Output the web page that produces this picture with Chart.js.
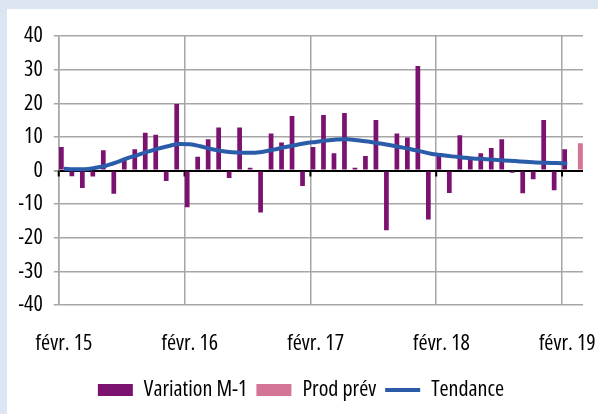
<!DOCTYPE html>
<html>
<head>
<meta charset="utf-8">
<script src="https://cdn.jsdelivr.net/npm/chart.js@4/dist/chart.umd.min.js"></script>
<style>
  body { margin: 0; background: #dce6f2; width: 598px; height: 414px; overflow: hidden; }
  #panel { position: absolute; left: 7px; top: 9px; width: 591px; height: 405px; background: #fff; }
</style>
</head>
<body>
<div id="panel"><canvas id="myChart" width="591" height="405"></canvas></div>
<script>
const monthNames = ["janv.", "févr.", "mars", "avr.", "mai", "juin", "juil.", "août", "sept.", "oct.", "nov.", "déc."];
const months = [];
for (let i = 0; i < 50; i++) {
    months.push(monthNames[(i + 1) % 12] + " " + (15 + Math.floor((i + 1) / 12)));
}

// Variation M-1, févr. 15 -> févr. 19
const variation = [
    7.0, -1.7, -5.2, -1.8, 6.0, -6.9, 3.1, 6.3, 11.2, 10.6, -3.1, 19.8,
    -10.9, 4.1, 9.3, 12.8, -2.2, 12.8, 0.8, -12.5, 11.0, 8.3, 16.2, -4.6,
    7.0, 16.5, 5.1, 17.1, 0.8, 4.3, 15.0, -17.8, 11.0, 9.8, 31.1, -14.6,
    4.3, -6.7, 10.5, 3.2, 5.1, 6.7, 9.3, -0.7, -6.8, -2.6, 15.0, -5.9,
    6.3, null
];
const prodPrev = Array(49).fill(null).concat([8.1]);
const tendance = [
    0.5, 0.4, 0.4, 0.8, 1.4, 2.4, 3.6, 4.6, 5.6, 6.5, 7.3, 7.9,
    7.8, 7.2, 6.4, 5.8, 5.4, 5.3, 5.3, 5.6, 6.2, 6.9, 7.5, 8.1,
    8.5, 8.9, 9.2, 9.3, 9.0, 8.6, 8.1, 7.6, 7.0, 6.4, 5.7, 5.0,
    4.6, 4.2, 3.9, 3.6, 3.4, 3.2, 3.0, 2.8, 2.6, 2.4, 2.3, 2.2,
    2.1, null
];

// the original uses a narrow font; take a condensed face if one is installed
function pickFont() {
    const ctx = document.createElement("canvas").getContext("2d");
    const probe = "févr. 15";
    const widthOf = (f) => { ctx.font = f; return ctx.measureText(probe).width; };
    const candidates = [
        { family: "'Liberation Sans Narrow'", weight: undefined, base: "'Liberation Sans'" },
        { family: "'Noto Sans'", weight: "condensed", base: "'Noto Sans'" },
        { family: "'Open Sans'", weight: "condensed", base: "'Open Sans'" },
        { family: "Roboto", weight: "condensed", base: "Roboto" }
    ];
    for (const c of candidates) {
        const w = widthOf((c.weight ? c.weight + " " : "") + "20px " + c.family + ", monospace");
        const wBase = widthOf("20px " + c.base + ", monospace");
        if (w < wBase * 0.9 && w < 62) {
            return { family: c.family + ", sans-serif", weight: c.weight, size: Math.min(22, Math.round(20 * 58 / w)) };
        }
    }
    return { family: "'Liberation Sans', sans-serif", weight: undefined, size: 17 };
}
const chosen = pickFont();
const textFont = { family: chosen.family, weight: chosen.weight, size: chosen.size };
const gridGrey = "#a6a6a6";

// little black ticks under the zero line, one per year
const zeroTicks = {
    id: "zeroTicks",
    beforeDatasetsDraw(chart) {
        const x = chart.scales.x, y = chart.scales.y;
        const half = (x.getPixelForTick(1) - x.getPixelForTick(0)) / 2;
        const y0 = y.getPixelForValue(0);
        const ctx = chart.ctx;
        ctx.save();
        ctx.strokeStyle = "#000";
        ctx.lineWidth = 2;
        for (let i = 0; i < months.length; i += 12) {
            const px = x.getPixelForTick(i) - half;
            ctx.beginPath();
            ctx.moveTo(px, y0);
            ctx.lineTo(px, y0 + 6);
            ctx.stroke();
        }
        ctx.restore();
    }
};

const myChartElement = document.getElementById("myChart");
new Chart(myChartElement, {
    type: "bar",
    data: {
        labels: months,
        datasets: [{
            label: "Variation M-1",
            data: variation,
            backgroundColor: "#7b1270",
            categoryPercentage: 1,
            barPercentage: 0.9,
            order: 1
        }, {
            label: "Prod prév",
            data: prodPrev,
            backgroundColor: "#d47598",
            categoryPercentage: 1,
            barPercentage: 0.95,
            order: 1
        }, {
            type: "line",
            label: "Tendance",
            data: tendance,
            borderColor: "#2a5caa",
            backgroundColor: "#2a5caa",
            borderWidth: 4,
            pointRadius: 0,
            cubicInterpolationMode: "monotone",
            order: 0
        }]
    },
    options: {
        responsive: false,
        animation: false,
        devicePixelRatio: 1,
        layout: { padding: { left: 12, right: 15, top: 27, bottom: 3 } },
        scales: {
            x: {
                offset: true,
                afterFit: (scale) => { scale.height = 65; },
                grid: {
                    offset: true,
                    drawTicks: true,
                    tickLength: 23,
                    tickColor: "rgba(0,0,0,0)",
                    lineWidth: 1.5,
                    color: (c) => c.index % 12 === 0 ? gridGrey : "rgba(0,0,0,0)"
                },
                border: { display: false },
                ticks: {
                    autoSkip: false,
                    maxRotation: 0,
                    padding: 3,
                    color: "#000",
                    font: textFont,
                    callback: (v, i) => i % 12 === 0 ? months[i] : ""
                }
            },
            y: {
                min: -40,
                max: 40,
                afterFit: (scale) => { scale.width = 39.75; },
                grid: {
                    tickLength: 5,
                    lineWidth: (c) => c.tick && c.tick.value === 0 ? 2 : 1.5,
                    color: (c) => c.tick && c.tick.value === 0 ? "#000" : gridGrey,
                    tickColor: gridGrey
                },
                border: { display: true, color: gridGrey, width: 1.5 },
                ticks: {
                    stepSize: 10,
                    padding: 11,
                    color: "#000",
                    font: textFont
                }
            }
        },
        plugins: {
            tooltip: { enabled: false },
            legend: {
                position: "bottom",
                labels: {
                    color: "#000",
                    font: textFont,
                    usePointStyle: true,
                    pointStyleWidth: 35,
                    boxHeight: 12,
                    padding: 9,
                    sort: (a, b) => a.datasetIndex - b.datasetIndex,
                    generateLabels: (chart) => {
                        const items = Chart.defaults.plugins.legend.labels.generateLabels(chart);
                        items.forEach((it) => {
                            if (it.datasetIndex === 2) {
                                it.pointStyle = "line";
                                it.lineWidth = 4;
                                it.strokeStyle = "#2a5caa";
                            } else {
                                it.pointStyle = "rect";
                                it.lineWidth = 0;
                            }
                        });
                        return items;
                    }
                }
            }
        }
    },
    plugins: [zeroTicks]
});
</script>
</body>
</html>
